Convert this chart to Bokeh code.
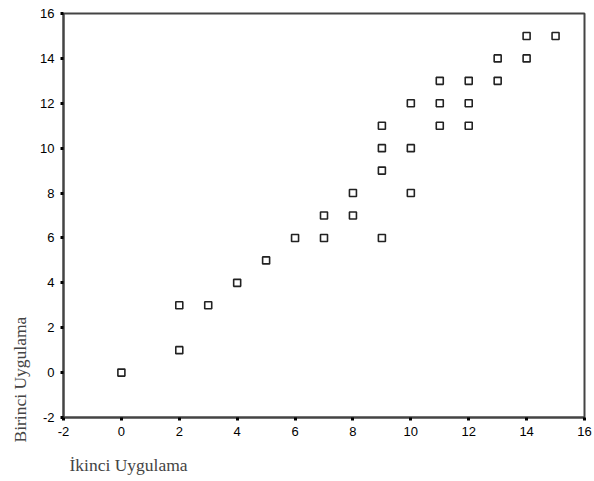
from bokeh.plotting import figure
from bokeh.models import Range1d, Title, FixedTicker
from bokeh.embed import file_html
from bokeh.resources import INLINE

# data: (İkinci Uygulama, Birinci Uygulama)
ikinci = [0, 2, 2, 3, 4, 5, 6, 7, 7, 8, 8, 9, 9, 9, 9, 10, 10, 10,
          11, 11, 11, 12, 12, 12, 13, 13, 14, 14, 15]
birinci = [0, 1, 3, 3, 4, 5, 6, 6, 7, 7, 8, 6, 9, 10, 11, 8, 10, 12,
           11, 12, 13, 11, 12, 13, 13, 14, 14, 15, 15]
ticks = [-2, 0, 2, 4, 6, 8, 10, 12, 14, 16]
tick_labels = {t: str(t) for t in ticks}
x_title = "İkinci Uygulama"
y_title = "Birinci Uygulama"

p = figure(output_backend="svg", toolbar_location=None,
           frame_width=521, frame_height=404,
           min_border_left=62, min_border_top=13, min_border_right=10,
           min_border_bottom=64,
           x_range=Range1d(-2, 16), y_range=Range1d(-2, 16))
p.background_fill_color = "white"
p.border_fill_color = "white"
p.outline_line_color = "#444444"
p.outline_line_width = 2
p.xgrid.grid_line_color = None
p.ygrid.grid_line_color = None

for ax in (p.xaxis[0], p.yaxis[0]):
    ax.ticker = FixedTicker(ticks=ticks)
    ax.major_label_overrides = tick_labels
    ax.minor_tick_line_color = None
    ax.major_tick_in = 0
    ax.major_tick_out = 3
    ax.major_tick_line_width = 3
    ax.major_tick_line_color = "black"
    ax.axis_line_color = "#444444"
    ax.axis_line_width = 2
    ax.major_label_text_font = "Liberation Sans"
    ax.major_label_text_font_size = "13px"
    ax.major_label_text_color = "black"
    ax.major_label_standoff = 6

p.scatter(ikinci, birinci, marker="square", size=7, fill_color="white",
          line_color="#222222", line_width=1.6)

p.add_layout(Title(text=y_title, text_font="Liberation Serif",
                   text_font_size="17.5px", text_font_style="normal",
                   align="left", offset=-25, standoff=15), "left")
p.add_layout(Title(text=x_title, text_font="Liberation Serif",
                   text_font_size="17.5px", text_font_style="normal",
                   align="left", offset=6, standoff=29), "below")

open("out.html", "w").write(file_html(p, INLINE))
